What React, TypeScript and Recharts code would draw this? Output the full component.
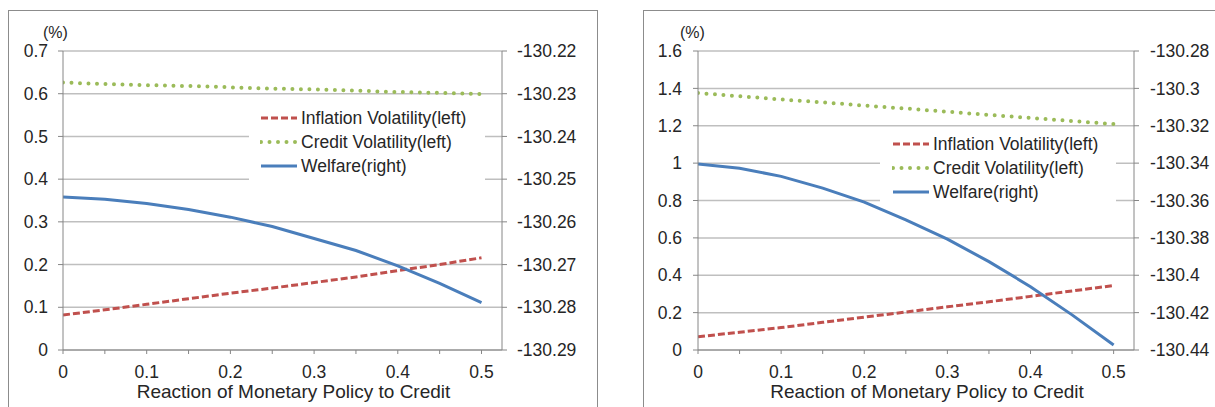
import React from 'react';
import { LineChart, Line, XAxis, YAxis, CartesianGrid, Legend, Label } from 'recharts';

// reaction coefficient (x axis)
const reaction = [0, 0.05, 0.1, 0.15, 0.2, 0.25, 0.3, 0.35, 0.4, 0.45, 0.5];

// left panel
const inflationA = [0.082, 0.094, 0.107, 0.12, 0.133, 0.145, 0.158, 0.171, 0.186, 0.2, 0.216];
const creditA = [0.626, 0.623, 0.62, 0.618, 0.615, 0.612, 0.61, 0.607, 0.604, 0.602, 0.599];
const welfareA = [-130.2542, -130.2547, -130.2557, -130.2571, -130.2589, -130.2611, -130.2639, -130.2667, -130.2703, -130.2744, -130.2789];
const leftTicksA = [0, 0.1, 0.2, 0.3, 0.4, 0.5, 0.6, 0.7];
const rightTicksA = [-130.29, -130.28, -130.27, -130.26, -130.25, -130.24, -130.23, -130.22];

// right panel
const inflationB = [0.071, 0.095, 0.12, 0.148, 0.176, 0.203, 0.231, 0.258, 0.287, 0.316, 0.345];
const creditB = [1.375, 1.358, 1.341, 1.325, 1.308, 1.292, 1.275, 1.258, 1.242, 1.225, 1.209];
const welfareB = [-130.3405, -130.3427, -130.3471, -130.3534, -130.3609, -130.3704, -130.3807, -130.3927, -130.4061, -130.4212, -130.4373];
const leftTicksB = [0, 0.2, 0.4, 0.6, 0.8, 1, 1.2, 1.4, 1.6];
const rightTicksB = [-130.44, -130.42, -130.4, -130.38, -130.36, -130.34, -130.32, -130.3, -130.28];

const FONT = '"Liberation Sans", Arial, sans-serif';
const TEXT = '#262626';
const AXIS = '#868686';
const GRID = '#bfbfbf';

const SERIES = [
  { key: 'inflation', name: 'Inflation Volatility(left)', color: '#C0504D', dash: '7 3', width: 3, cap: 'butt', axis: 'left' },
  { key: 'credit', name: 'Credit Volatility(left)', color: '#9BBB59', dash: '0 8.5', width: 4, cap: 'round', axis: 'left' },
  { key: 'welfare', name: 'Welfare(right)', color: '#4A7EBB', dash: undefined, width: 3, cap: 'butt', axis: 'right' },
];

const fmt = (v: number) => String(Number(v.toFixed(2)));
const fmtX = (v: number) => (Math.round(v * 100) % 10 === 0 ? fmt(v) : '');

const LegendBox = ({ padLeft }: { padLeft: number }) => (
  <div style={{ background: '#fff', padding: `2px 0 2px ${padLeft}px`, fontFamily: FONT }}>
    {SERIES.map((s) => (
      <div key={s.key} style={{ display: 'flex', alignItems: 'center', height: 24 }}>
        <svg width={38} height={10}>
          <line x1={1} y1={5} x2={37} y2={5} stroke={s.color} strokeWidth={s.width}
            strokeDasharray={s.dash} strokeLinecap={s.cap as any} />
        </svg>
        <span style={{ marginLeft: 3, fontSize: 17.5, color: TEXT, whiteSpace: 'nowrap' }}>{s.name}</span>
      </div>
    ))}
  </div>
);

type PanelProps = {
  left: number;
  width: number;
  yLeftWidth: number;
  yRightWidth: number;
  tickMargin: number;
  inflation: number[];
  credit: number[];
  welfare: number[];
  leftTicks: number[];
  rightTicks: number[];
  legend: { left: number; top: number; width: number; pad: number };
  pctX: number;
};

const Panel = (p: PanelProps) => {
  const data = reaction.map((x, i) => ({
    x,
    inflation: p.inflation[i],
    credit: p.credit[i],
    welfare: p.welfare[i],
  }));
  const tickStyle = { fill: TEXT, fontSize: 17.5, fontFamily: FONT };
  return (
    <div style={{ position: 'absolute', left: p.left, top: 0 }}>
      <LineChart width={p.width} height={407} data={data} margin={{ top: 51, right: 0, bottom: 0, left: 0 }}>
        <CartesianGrid vertical={false} stroke={GRID} strokeWidth={1.5} yAxisId="left" />
        <XAxis dataKey="x" type="number" domain={[0, 0.5245]} ticks={reaction} interval={0}
          tickFormatter={fmtX} tickSize={4} tickMargin={12} height={57} allowDataOverflow
          axisLine={{ stroke: AXIS }} tickLine={{ stroke: AXIS }} tick={tickStyle}>
          <Label content={(lp: any) => (
            <text x={lp.viewBox.x + lp.viewBox.width / 2 + 11} y={398} textAnchor="middle"
              fill={TEXT} fontSize={19} fontFamily={FONT}>Reaction of Monetary Policy to Credit</text>
          )} />
        </XAxis>
        <YAxis yAxisId="left" domain={[p.leftTicks[0], p.leftTicks[p.leftTicks.length - 1]]}
          ticks={p.leftTicks} interval={0} tickFormatter={fmt} width={p.yLeftWidth}
          tickSize={5} tickMargin={p.tickMargin} axisLine={{ stroke: AXIS }} tickLine={{ stroke: AXIS }} tick={tickStyle}>
          <Label content={() => (
            <text x={p.pctX} y={38} fill={TEXT} fontSize={16} fontFamily={FONT}>(%)</text>
          )} />
        </YAxis>
        <YAxis yAxisId="right" orientation="right" domain={[p.rightTicks[0], p.rightTicks[p.rightTicks.length - 1]]}
          ticks={p.rightTicks} interval={0} tickFormatter={fmt} width={p.yRightWidth}
          tickSize={5} tickMargin={p.tickMargin} axisLine={{ stroke: AXIS }} tickLine={{ stroke: AXIS }}
          tick={{ ...tickStyle, textAnchor: 'start' }} />
        <Legend layout="vertical" align="center" verticalAlign="middle"
          wrapperStyle={{ left: p.legend.left, top: p.legend.top, width: p.legend.width, height: 'auto' }}
          content={() => <LegendBox padLeft={p.legend.pad} />} />
        {SERIES.map((s) => (
          <Line key={s.key} yAxisId={s.axis} type="linear" dataKey={s.key} name={s.name}
            stroke={s.color} strokeWidth={s.width} strokeDasharray={s.dash} strokeLinecap={s.cap as any}
            dot={false} activeDot={false} isAnimationActive={false} />
        ))}
      </LineChart>
    </div>
  );
};

export default function App() {
  return (
    <div style={{ position: 'absolute', left: 0, top: 0, width: 1215, height: 407, overflow: 'hidden', background: '#fff' }}>
      <div style={{ position: 'absolute', left: 8, top: 10, width: 588, height: 430, border: '1px solid #8c8c8c' }} />
      <div style={{ position: 'absolute', left: 643, top: 10, width: 600, height: 430, border: '1px solid #8c8c8c' }} />
      <Panel left={0} width={596} yLeftWidth={63} yRightWidth={94} tickMargin={10}
        inflation={inflationA} credit={creditA} welfare={welfareA}
        leftTicks={leftTicksA} rightTicks={rightTicksA}
        legend={{ left: 249, top: 104, width: 236, pad: 11 }} pctX={43} />
      <Panel left={610} width={605} yLeftWidth={88} yRightWidth={81} tickMargin={11}
        inflation={inflationB} credit={creditB} welfare={welfareB}
        leftTicks={leftTicksB} rightTicks={rightTicksB}
        legend={{ left: 270, top: 130, width: 236, pad: 12 }} pctX={70} />
    </div>
  );
}
